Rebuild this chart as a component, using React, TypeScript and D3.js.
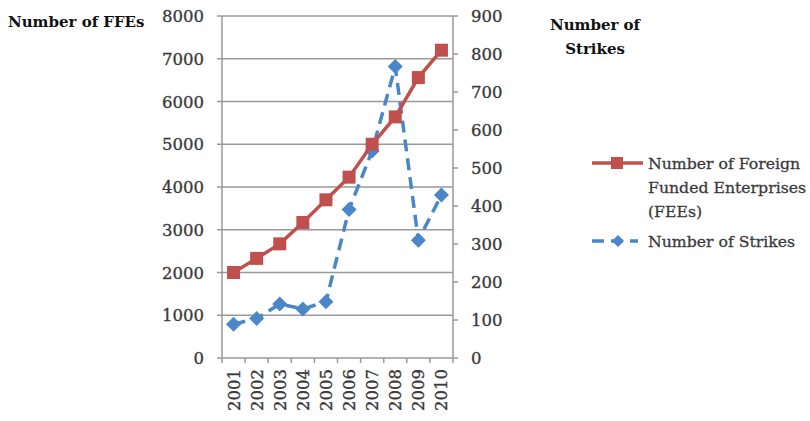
import React from "react";
import * as d3 from "d3";

const years = ["2001","2002","2003","2004","2005","2006","2007","2008","2009","2010"];
const ffes = [2000, 2330, 2670, 3170, 3700, 4230, 5000, 5640, 6560, 7200];
const strikes = [89, 104, 142, 129, 148, 391, 545, 767, 310, 429];
const leftTicks = [0,1000,2000,3000,4000,5000,6000,7000,8000];
const rightTicks = [0,100,200,300,400,500,600,700,800,900];

const W = 810, H = 421;
const L = 222, R = 453, T = 16, B = 358;
const font = "'DejaVu Serif', serif";
const textCol = "#3a3a3a";
const red = "#C0504D";
const blue = "#4A86C8";
const gridCol = "#999";

export default function App() {
  const x = d3.scaleBand().domain(years).range([L, R]);
  const yL = d3.scaleLinear().domain([0, 8000]).range([B, T]);
  const yR = d3.scaleLinear().domain([0, 900]).range([B, T]);
  const cx = (d: string) => (x(d) as number) + x.bandwidth() / 2;
  const redLine = d3.line<number>().x((_, i) => cx(years[i])).y(d => yL(d))(ffes) as string;
  const blueLine = d3.line<number>().x((_, i) => cx(years[i])).y(d => yR(d))(strikes) as string;
  const sq = 13, dm = 7.5;
  const diamond = (px: number, py: number) => `M${px},${py - dm}L${px + dm},${py}L${px},${py + dm}L${px - dm},${py}Z`;
  const tickText = { fontFamily: font, fontSize: 16.5, fill: textCol, stroke: textCol, strokeWidth: 0.35 } as const;
  return (
    <svg width={W} height={H} style={{ position: "absolute", left: 0, top: 0, background: "#fff" }}>
      {leftTicks.map(t => (
        <g key={"l" + t}>
          <line x1={L - 5} x2={R} y1={yL(t)} y2={yL(t)} stroke={gridCol} strokeWidth={1.5} />
          <text x={L - 18} y={yL(t) + 6} textAnchor="end" {...tickText}>{t}</text>
        </g>
      ))}
      {rightTicks.map(t => (
        <g key={"r" + t}>
          <line x1={R} x2={R + 5} y1={yR(t)} y2={yR(t)} stroke={gridCol} strokeWidth={1.5} />
          <text x={R + 18} y={yR(t) + 6} textAnchor="start" {...tickText}>{t}</text>
        </g>
      ))}
      <line x1={L} x2={L} y1={T} y2={B} stroke={gridCol} strokeWidth={1.5} />
      <line x1={R} x2={R} y1={T} y2={B} stroke={gridCol} strokeWidth={1.5} />
      {years.map((yv, i) => (
        <g key={yv}>
          <line x1={(x(yv) as number)} x2={(x(yv) as number)} y1={B} y2={B + 5} stroke={gridCol} strokeWidth={1.5} />
          {i === years.length - 1 && <line x1={R} x2={R} y1={B} y2={B + 5} stroke={gridCol} strokeWidth={1.5} />}
          <text transform={`translate(${cx(yv) + 6},${B + 11}) rotate(-90)`} textAnchor="end" {...tickText}>{yv}</text>
        </g>
      ))}
      <path d={blueLine} fill="none" stroke={blue} strokeWidth={3.5} strokeDasharray="12,7" />
      {strikes.map((v, i) => <path key={"d" + i} d={diamond(cx(years[i]), yR(v))} fill={blue} />)}
      <path d={redLine} fill="none" stroke={red} strokeWidth={3.5} />
      {ffes.map((v, i) => <rect key={"s" + i} x={cx(years[i]) - sq / 2} y={yL(v) - sq / 2} width={sq} height={sq} fill={red} />)}
      <text x={8} y={27} fontFamily={font} fontSize={15} fontWeight="bold" fill="#111">Number of FFEs</text>
      <text x={595} y={30} textAnchor="middle" fontFamily={font} fontSize={15} fontWeight="bold" fill="#111">Number of</text>
      <text x={595} y={54} textAnchor="middle" fontFamily={font} fontSize={15} fontWeight="bold" fill="#111">Strikes</text>
      <line x1={592} x2={643} y1={163} y2={163} stroke={red} strokeWidth={3.5} />
      <rect x={617 - 6} y={163 - 6} width={12} height={12} fill={red} />
      <text fontFamily={font} fontSize={15.7} fill={textCol} stroke={textCol} strokeWidth={0.3}>
        <tspan x={648} y={169}>Number of Foreign</tspan>
        <tspan x={648} y={193}>Funded Enterprises</tspan>
        <tspan x={648} y={217}>(FEEs)</tspan>
      </text>
      <line x1={592} x2={638} y1={241} y2={241} stroke={blue} strokeWidth={3.5} strokeDasharray="12,7" />
      <path d={`M618,${241 - 6}L624,241L618,${241 + 6}L612,241Z`} fill={blue} />
      <text x={648} y={247} fontFamily={font} fontSize={15.7} fill={textCol} stroke={textCol} strokeWidth={0.3}>Number of Strikes</text>
    </svg>
  );
}
